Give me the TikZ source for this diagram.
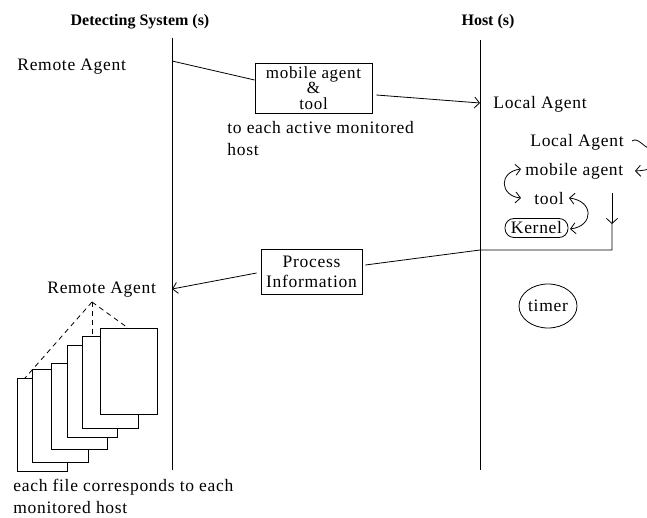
\documentclass[tikz,border=0pt]{standalone}
\usepackage{fontspec}
\setmainfont{Liberation Serif}
\newfontfamily\tnrfam[LetterSpace=4]{Liberation Serif}
\newfontfamily\tnrbold{Liberation Serif}
\usetikzlibrary{arrows.meta,shapes.geometric}
\begin{document}
\begin{tikzpicture}[x=1pt,y=-1pt,line width=0.8pt,
  font=\tnrfam\fontsize{17.5}{22}\selectfont,
  tip/.style={-{Straight Barb[length=5pt,width=11pt]}},
  tiptwo/.style={{Straight Barb[length=5pt,width=11pt]}-{Straight Barb[length=5pt,width=11pt]}},
  ttl/.style={font=\tnrbold\bfseries\fontsize{16}{19}\selectfont,inner sep=0pt},
  lbl/.style={inner sep=0pt,anchor=west},
  box/.style={draw,rectangle,inner sep=0pt,align=center},
  filebox/.style={draw,fill=white,rectangle,inner sep=0pt},
  dashln/.style={dash pattern=on 5pt off 4pt}]
\useasboundingbox (0,0) rectangle (647,518);
% titles
\node[ttl] (ds) at (140,22) {Detecting System (s)};
\node[ttl] (hs) at (488,22) {Host (s)};
% life lines
\coordinate (dtop) at (172,38);
\coordinate (dbot) at (172,470);
\coordinate (htop) at (480,40);
\coordinate (hbot) at (480,470);
\draw (dtop) -- (dbot);
\draw (htop) -- (hbot);
% first message
\node[lbl] (ra1) at (17,67) {Remote Agent};
\node[box,minimum width=117,minimum height=50,font=\tnrfam\fontsize{17}{15.5}\selectfont] (mat) at (313.5,88) {mobile agent\\\&\\tool};
\coordinate (c1) at (172,61);
\coordinate (c2) at (480,103);
\draw (c1) -- ([yshift=8pt]mat.west);
\draw[tip] ([xshift=4pt,yshift=-7pt]mat.east) -- (c2);
\node[lbl] (la1) at (493,104) {Local Agent};
\node[inner sep=0pt,anchor=north west,align=left] (each) at (227,121) {to each active monitored\\host};
% host internals
\node[lbl] (la2) at (530,142) {Local Agent};
\node[lbl] (ma2) at (525,171) {mobile agent};
\node[lbl] (tl2) at (534,199) {tool};
\node[draw,rounded corners=9pt,inner sep=1pt,minimum height=19,minimum width=63] (kern) at (536.5,228) {Kernel};
\draw[tip] (632,141) .. controls (638,137) and (642,146) .. (652,150)
  .. controls (668,156) and (662,170) .. (635,171);
\draw[tiptwo] (521,169) .. controls (498,172) and (500,196) .. (521,198);
\draw[tiptwo] (569,198) .. controls (594,201) and (594,226) .. (570,229);
\coordinate (v1) at (612,193);
\coordinate (v2) at (612,224);
\coordinate (v3) at (612,250);
\coordinate (v4) at (480,250);
\draw[tip] (v1) -- (v2);
% return message
\node[box,minimum width=101,minimum height=45,font=\tnrfam\fontsize{17.5}{20}\selectfont] (pi) at (311.5,271.5) {Process\\Information};
\draw (v2) -- (v3) -- (v4) -- ([xshift=3pt,yshift=6.5pt]pi.east);
\coordinate (c3) at (172,289);
\draw[tip] ([xshift=-4pt,yshift=-1.5pt]pi.west) -- (c3);
\node[lbl] (ra2) at (47,290) {Remote Agent};
\node[draw,ellipse,minimum width=58,minimum height=44,inner sep=0pt] (timer) at (548,306) {timer};
% files
\coordinate (apex) at (92,302);
\coordinate (d1) at (25,378);
\coordinate (d2) at (92,336);
\coordinate (d3) at (128,328);
\draw[dashln] (apex) -- (d1);
\draw[dashln] (apex) -- (d2);
\draw[dashln] (apex) -- (d3);
\node[filebox,minimum width=50,minimum height=93] (f1) at (42,424.5) {};
\node[filebox,minimum width=56,minimum height=93] (f2) at (60,415.5) {};
\node[filebox,minimum width=56,minimum height=86] (f3) at (79,406) {};
\node[filebox,minimum width=50,minimum height=92] (f4) at (92,391) {};
\node[filebox,minimum width=56,minimum height=92] (f5) at (110,382) {};
\node[filebox,minimum width=57,minimum height=86] (f6) at (128.5,371) {};
\node[inner sep=0pt,anchor=north west,align=left] (cap) at (13,479) {each file corresponds to each\\monitored host};
\end{tikzpicture}
\end{document}
